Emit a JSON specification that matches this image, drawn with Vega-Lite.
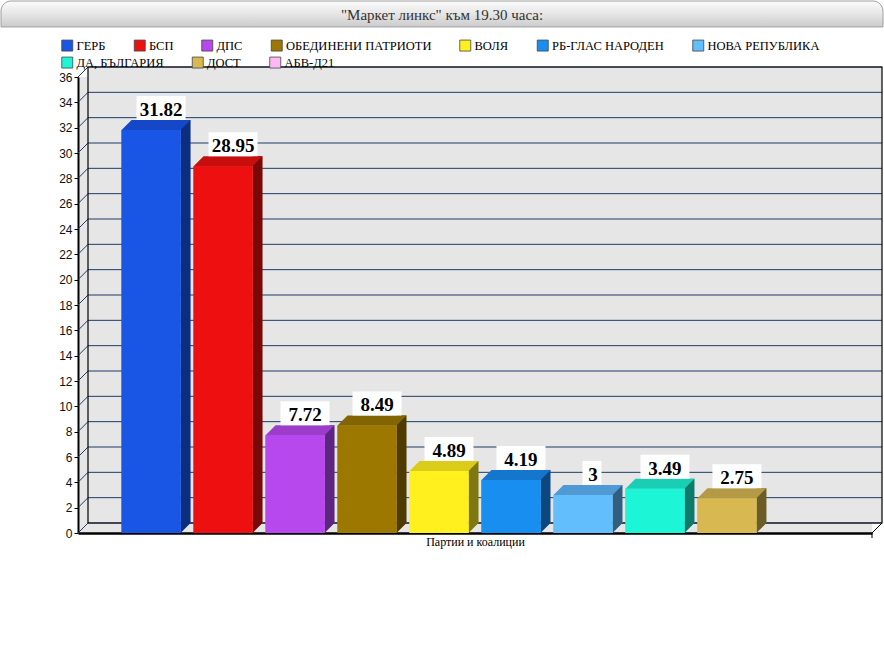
{
  "$schema": "https://vega.github.io/schema/vega-lite/v6.json",
  "autosize": "none",
  "width": 794,
  "height": 456,
  "padding": {"left": 78, "top": 77, "right": 12, "bottom": 117},
  "background": "white",
  "title": {
    "text": "\"Маркет линкс\" към 19.30 часа:",
    "font": "Liberation Serif",
    "fontSize": 15,
    "fontWeight": "normal",
    "color": "#333333",
    "anchor": "middle",
    "frame": "group",
    "dx": -33,
    "dy": 22,
    "offset": 0
  },
  "datasets": {
    "parties": [
      {"party": "ГЕРБ", "value": 31.82},
      {"party": "БСП", "value": 28.95},
      {"party": "ДПС", "value": 7.72},
      {"party": "ОБЕДИНЕНИ ПАТРИОТИ", "value": 8.49},
      {"party": "ВОЛЯ", "value": 4.89},
      {"party": "РБ-ГЛАС НАРОДЕН", "value": 4.19},
      {"party": "НОВА РЕПУБЛИКА", "value": 3},
      {"party": "ДА, БЪЛГАРИЯ", "value": 3.49},
      {"party": "ДОСТ", "value": 2.75}
    ],
    "grid": [
      {"g": 0}, {"g": 2}, {"g": 4}, {"g": 6}, {"g": 8}, {"g": 10}, {"g": 12},
      {"g": 14}, {"g": 16}, {"g": 18}, {"g": 20}, {"g": 22}, {"g": 24},
      {"g": 26}, {"g": 28}, {"g": 30}, {"g": 32}, {"g": 34}, {"g": 36}
    ],
    "one": [{}]
  },
  "data": {"name": "parties"},
  "resolve": {"scale": {"fill": "independent"}},
  "layer": [
    {
      "data": {"name": "one"},
      "mark": {
        "type": "rect",
        "cornerRadiusTopLeft": 10,
        "cornerRadiusTopRight": 10,
        "stroke": "#a0a0a0",
        "strokeWidth": 1,
        "color": {
          "gradient": "linear", "x1": 0, "y1": 0, "x2": 0, "y2": 1,
          "stops": [
            {"offset": 0, "color": "#fbfbfb"},
            {"offset": 0.5, "color": "#e6e6e6"},
            {"offset": 1, "color": "#cbcbcb"}
          ]
        }
      },
      "encoding": {
        "x": {"value": -77},
        "x2": {"value": 805},
        "y": {"datum": 42.0, "type": "quantitative", "title": null, "scale": {"domain": [0, 36], "nice": false}},
        "y2": {"datum": 39.95}
      }
    },
    {
      "data": {"name": "one"},
      "mark": {"type": "rect", "fill": "#e6e6e6", "yOffset": -10, "y2Offset": -10},
      "encoding": {
        "x": {"value": 10},
        "x2": {"value": 804},
        "y": {"datum": 36, "type": "quantitative", "title": null, "scale": {"domain": [0, 36], "nice": false}},
        "y2": {"datum": 0}
      }
    },
    {
      "data": {"name": "grid"},
      "mark": {
        "type": "point",
        "shape": "M-397,0 L-387,-10 L407,-10",
        "size": 4,
        "filled": false,
        "opacity": 1,
        "color": "#1f3b66",
        "strokeWidth": 1
      },
      "encoding": {
        "y": {"field": "g", "type": "quantitative", "title": null, "scale": {"domain": [0, 36], "nice": false}}
      }
    },
    {
      "data": {"name": "one"},
      "mark": {"type": "rect", "fill": null, "stroke": "black", "strokeWidth": 1.2, "yOffset": -10, "y2Offset": -10},
      "encoding": {
        "x": {"value": 10},
        "x2": {"value": 804},
        "y": {"datum": 36, "type": "quantitative", "title": null, "scale": {"domain": [0, 36], "nice": false}},
        "y2": {"datum": 0}
      }
    },
    {
      "data": {"name": "one"},
      "mark": {"type": "point", "shape": "M397,0 L407,-10 M397,0 L397,5", "size": 4, "filled": false, "opacity": 1, "color": "black", "strokeWidth": 1},
      "encoding": {
        "y": {"datum": 0, "type": "quantitative", "title": null, "scale": {"domain": [0, 36], "nice": false}}
      }
    },
    {
      "mark": {"type": "bar", "width": 10, "xOffset": 34.5, "yOffset": -10, "y2Offset": -10},
      "encoding": {
        "x": {"field": "party", "type": "nominal", "sort": null, "title": "Партии и коалиции",
          "scale": {"domain": ["ГЕРБ", "БСП", "ДПС", "ОБЕДИНЕНИ ПАТРИОТИ", "ВОЛЯ", "РБ-ГЛАС НАРОДЕН", "НОВА РЕПУБЛИКА", "ДА, БЪЛГАРИЯ", "ДОСТ", "АБВ-Д21"], "paddingInner": 0.18, "paddingOuter": 0.605}},
        "y": {"field": "value", "type": "quantitative", "title": null, "scale": {"domain": [0, 36], "nice": false}},
        "y2": {"datum": 0},
        "fill": {"field": "party", "type": "nominal", "legend": null,
          "scale": {"domain": ["ГЕРБ", "БСП", "ДПС", "ОБЕДИНЕНИ ПАТРИОТИ", "ВОЛЯ", "РБ-ГЛАС НАРОДЕН", "НОВА РЕПУБЛИКА", "ДА, БЪЛГАРИЯ", "ДОСТ", "АБВ-Д21"],
            "range": ["#0b2e80", "#790808", "#5c2580", "#4d3b00", "#7f7810", "#0c4780", "#305f80", "#0e7a6b", "#6b5c28", "#806080"]}}
      }
    },
    {
      "mark": {"type": "point", "shape": "M29.5,0 L29.5,-10 L39.5,-10 Z", "size": 4, "filled": true, "opacity": 1},
      "encoding": {
        "x": {"field": "party", "type": "nominal", "sort": null, "title": "Партии и коалиции",
          "scale": {"domain": ["ГЕРБ", "БСП", "ДПС", "ОБЕДИНЕНИ ПАТРИОТИ", "ВОЛЯ", "РБ-ГЛАС НАРОДЕН", "НОВА РЕПУБЛИКА", "ДА, БЪЛГАРИЯ", "ДОСТ", "АБВ-Д21"], "paddingInner": 0.18, "paddingOuter": 0.605}},
        "y": {"datum": 0, "type": "quantitative", "title": null, "scale": {"domain": [0, 36], "nice": false}},
        "fill": {"field": "party", "type": "nominal", "legend": null,
          "scale": {"domain": ["ГЕРБ", "БСП", "ДПС", "ОБЕДИНЕНИ ПАТРИОТИ", "ВОЛЯ", "РБ-ГЛАС НАРОДЕН", "НОВА РЕПУБЛИКА", "ДА, БЪЛГАРИЯ", "ДОСТ", "АБВ-Д21"],
            "range": ["#0b2e80", "#790808", "#5c2580", "#4d3b00", "#7f7810", "#0c4780", "#305f80", "#0e7a6b", "#6b5c28", "#806080"]}}
      }
    },
    {
      "mark": {"type": "bar"},
      "encoding": {
        "x": {"field": "party", "type": "nominal", "sort": null, "title": "Партии и коалиции",
          "scale": {"domain": ["ГЕРБ", "БСП", "ДПС", "ОБЕДИНЕНИ ПАТРИОТИ", "ВОЛЯ", "РБ-ГЛАС НАРОДЕН", "НОВА РЕПУБЛИКА", "ДА, БЪЛГАРИЯ", "ДОСТ", "АБВ-Д21"], "paddingInner": 0.18, "paddingOuter": 0.605}},
        "y": {"field": "value", "type": "quantitative", "title": null, "scale": {"domain": [0, 36], "nice": false}},
        "fill": {"field": "party", "type": "nominal",
          "scale": {"domain": ["ГЕРБ", "БСП", "ДПС", "ОБЕДИНЕНИ ПАТРИОТИ", "ВОЛЯ", "РБ-ГЛАС НАРОДЕН", "НОВА РЕПУБЛИКА", "ДА, БЪЛГАРИЯ", "ДОСТ", "АБВ-Д21"],
            "range": ["#1a56e6", "#ee1010", "#b748ee", "#9c7800", "#fff01e", "#188ef0", "#62befc", "#1cf5d6", "#d7b851", "#ffb8f6"]},
          "legend": {"orient": "none", "legendX": -17, "legendY": -38, "direction": "horizontal", "columns": 7,
            "values": ["ГЕРБ", "БСП", "ДПС", "ОБЕДИНЕНИ ПАТРИОТИ", "ВОЛЯ", "РБ-ГЛАС НАРОДЕН", "НОВА РЕПУБЛИКА"]}}
      }
    },
    {
      "mark": {"type": "bar"},
      "encoding": {
        "x": {"field": "party", "type": "nominal", "sort": null, "title": "Партии и коалиции",
          "scale": {"domain": ["ГЕРБ", "БСП", "ДПС", "ОБЕДИНЕНИ ПАТРИОТИ", "ВОЛЯ", "РБ-ГЛАС НАРОДЕН", "НОВА РЕПУБЛИКА", "ДА, БЪЛГАРИЯ", "ДОСТ", "АБВ-Д21"], "paddingInner": 0.18, "paddingOuter": 0.605}},
        "y": {"field": "value", "type": "quantitative", "title": null, "scale": {"domain": [0, 36], "nice": false}},
        "fill": {"field": "party", "type": "nominal",
          "scale": {"domain": ["ГЕРБ", "БСП", "ДПС", "ОБЕДИНЕНИ ПАТРИОТИ", "ВОЛЯ", "РБ-ГЛАС НАРОДЕН", "НОВА РЕПУБЛИКА", "ДА, БЪЛГАРИЯ", "ДОСТ", "АБВ-Д21"],
            "range": ["#1a56e6", "#ee1010", "#b748ee", "#9c7800", "#fff01e", "#188ef0", "#62befc", "#1cf5d6", "#d7b851", "#ffb8f6"]},
          "legend": {"orient": "none", "legendX": -17, "legendY": -21, "direction": "horizontal", "columns": 3,
            "values": ["ДА, БЪЛГАРИЯ", "ДОСТ", "АБВ-Д21"]}}
      }
    },
    {
      "mark": {"type": "point", "shape": "M-29.5,0 L29.5,0 L39.5,-10 L-19.5,-10 Z", "size": 4, "filled": true, "opacity": 1},
      "encoding": {
        "x": {"field": "party", "type": "nominal", "sort": null, "title": "Партии и коалиции",
          "scale": {"domain": ["ГЕРБ", "БСП", "ДПС", "ОБЕДИНЕНИ ПАТРИОТИ", "ВОЛЯ", "РБ-ГЛАС НАРОДЕН", "НОВА РЕПУБЛИКА", "ДА, БЪЛГАРИЯ", "ДОСТ", "АБВ-Д21"], "paddingInner": 0.18, "paddingOuter": 0.605}},
        "y": {"field": "value", "type": "quantitative", "title": null, "scale": {"domain": [0, 36], "nice": false}},
        "fill": {"field": "party", "type": "nominal", "legend": null,
          "scale": {"domain": ["ГЕРБ", "БСП", "ДПС", "ОБЕДИНЕНИ ПАТРИОТИ", "ВОЛЯ", "РБ-ГЛАС НАРОДЕН", "НОВА РЕПУБЛИКА", "ДА, БЪЛГАРИЯ", "ДОСТ", "АБВ-Д21"],
            "range": ["#1448c8", "#c80d0d", "#9b3ccb", "#826400", "#dccc1a", "#1476cc", "#4f9ad4", "#18ceb4", "#b49a44", "#e0a0d8"]}}
      }
    },
    {
      "mark": {"type": "point", "size": 4, "filled": true, "opacity": 1, "color": "white"},
      "encoding": {
        "x": {"field": "party", "type": "nominal", "sort": null, "title": "Партии и коалиции",
          "scale": {"domain": ["ГЕРБ", "БСП", "ДПС", "ОБЕДИНЕНИ ПАТРИОТИ", "ВОЛЯ", "РБ-ГЛАС НАРОДЕН", "НОВА РЕПУБЛИКА", "ДА, БЪЛГАРИЯ", "ДОСТ", "АБВ-Д21"], "paddingInner": 0.18, "paddingOuter": 0.605}},
        "y": {"field": "value", "type": "quantitative", "title": null, "scale": {"domain": [0, 36], "nice": false}},
        "shape": {
          "condition": {"test": "datum.value === 3", "value": "M-0.5,-10 L18.5,-10 L18.5,-34 L-0.5,-34 Z"},
          "value": "M-14.5,-10 L34.5,-10 L34.5,-34 L-14.5,-34 Z"
        }
      }
    },
    {
      "mark": {"type": "text", "font": "Liberation Serif", "fontSize": 19, "fontWeight": "bold", "color": "black", "baseline": "alphabetic", "dx": 10, "dy": -14},
      "encoding": {
        "x": {"field": "party", "type": "nominal", "sort": null, "title": "Партии и коалиции",
          "scale": {"domain": ["ГЕРБ", "БСП", "ДПС", "ОБЕДИНЕНИ ПАТРИОТИ", "ВОЛЯ", "РБ-ГЛАС НАРОДЕН", "НОВА РЕПУБЛИКА", "ДА, БЪЛГАРИЯ", "ДОСТ", "АБВ-Д21"], "paddingInner": 0.18, "paddingOuter": 0.605}},
        "y": {"field": "value", "type": "quantitative", "title": null, "scale": {"domain": [0, 36], "nice": false}},
        "text": {"field": "value", "type": "nominal"}
      }
    }
  ],
  "config": {
    "view": {"stroke": null, "fill": "#e6e6e6"},
    "axis": {"grid": false},
    "axisX": {
      "labels": false, "ticks": false, "domainColor": "black", "domainWidth": 2.5,
      "titleFont": "Liberation Serif", "titleFontSize": 12, "titleFontWeight": "normal", "titleColor": "black", "titlePadding": 3
    },
    "axisY": {
      "tickCount": 18, "labelOverlap": false, "domainColor": "black", "domainWidth": 2, "tickColor": "black", "tickSize": 4,
      "labelFont": "Liberation Sans", "labelFontSize": 12, "labelColor": "#111111", "labelPadding": 2
    },
    "legend": {
      "title": null, "padding": 0, "symbolType": "square", "symbolSize": 121, "symbolStrokeColor": "#444444", "symbolStrokeWidth": 0.8,
      "labelFont": "Liberation Serif", "labelFontSize": 12.5, "labelColor": "black", "labelOffset": 3, "labelLimit": 0,
      "columnPadding": 26.5
    }
  }
}
